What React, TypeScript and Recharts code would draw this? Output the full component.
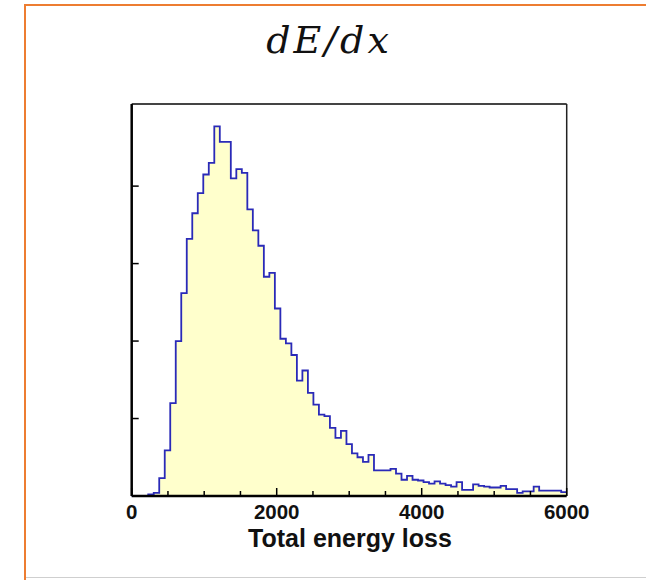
import React from 'react';
import { AreaChart, Area, XAxis, YAxis, ReferenceLine } from 'recharts';

// histogram of total energy loss, 79 equal bins over 0..6000
const X_MIN = 0;
const X_MAX = 6000;
const BIN_COUNT = 79;
const BIN_WIDTH = (X_MAX - X_MIN) / BIN_COUNT;

const binCounts = [
  0, 0, 0, 2, 4, 23, 59, 120, 200, 262,
  332, 365, 391, 415, 430, 477, 457, 457, 410, 422,
  417, 370, 343, 323, 283, 288, 242, 203, 197, 182,
  149, 162, 133, 118, 105, 103, 88, 75, 84, 67,
  55, 50, 44, 53, 33, 33, 33, 35, 29, 21,
  26, 21, 20, 18, 16, 19, 16, 14, 12, 18,
  8, 8, 15, 13, 12, 11, 11, 13, 9, 9,
  4, 6, 6, 12, 7, 7, 7, 7, 5,
];

const xTicks = [0, 500, 1000, 1500, 2000, 2500, 3000, 3500, 4000, 4500, 5000, 5500, 6000];
const xLabelTicks = [0, 2000, 4000, 6000];
const yTicks = [100, 200, 300, 400];
const Y_MAX = 506;

const data = binCounts
  .map((count, i) => ({ x: X_MIN + i * BIN_WIDTH, count }))
  .concat([{ x: X_MAX, count: binCounts[binCounts.length - 1] }]);

const PLOT_LEFT = 131.7;
const PLOT_RIGHT = 566.7;
const PLOT_TOP = 104;
const PLOT_BOTTOM = 496;
const Y_AXIS_W = 20;
const W = 646;
const H = 580;

const XTick = (props: any) => {
  const { x, payload } = props;
  const v = payload.value;
  const major = xLabelTicks.includes(v);
  return (
    <g>
      <line x1={x} x2={x} y1={PLOT_BOTTOM} y2={PLOT_BOTTOM - (major ? 8 : 5)} stroke="#000" strokeWidth={1.5} />
      {major && (
        <text
          x={x}
          y={518.5}
          textAnchor="middle"
          fontFamily="'Liberation Sans', Arial, sans-serif"
          fontWeight="bold"
          fontSize={20.5}
          fill="#111"
        >
          {v}
        </text>
      )}
    </g>
  );
};

const YTick = (props: any) => {
  const { y } = props;
  return <line x1={PLOT_LEFT} x2={PLOT_LEFT + 7} y1={y} y2={y} stroke="#000" strokeWidth={1.5} />;
};

export default function App() {
  return (
    <div style={{ position: 'absolute', left: 0, top: 0, width: W, height: H, background: '#fff', overflow: 'hidden' }}>
      {/* slide frame */}
      <div style={{ position: 'absolute', left: 24, top: 4, width: W - 24, height: 2, background: '#ED7D31' }} />
      <div style={{ position: 'absolute', left: 24, top: 4, width: 2, height: H - 4, background: '#ED7D31' }} />
      <div style={{ position: 'absolute', left: 26, top: H - 3, width: W - 26, height: 1, background: '#cfcfcf' }} />

      <div
        style={{
          position: 'absolute',
          left: 209,
          top: 18,
          width: 240,
          textAlign: 'center',
          fontFamily: "'DejaVu Serif', serif",
          fontStyle: 'italic',
          fontSize: 38,
          letterSpacing: 3,
          color: '#111',
        }}
      >
        dE/dx
      </div>

      <div style={{ position: 'absolute', left: 0, top: 0 }}>
        <AreaChart
          width={W}
          height={H}
          data={data}
          margin={{ top: PLOT_TOP, left: PLOT_LEFT - Y_AXIS_W, right: W - PLOT_RIGHT, bottom: H - PLOT_BOTTOM - 30 }}
        >
          <XAxis
            dataKey="x"
            type="number"
            domain={[X_MIN, X_MAX]}
            ticks={xTicks}
            interval={0}
            height={30}
            tickSize={0}
            tick={<XTick />}
            axisLine={{ stroke: '#000', strokeWidth: 2.5 }}
            tickLine={false}
          />
          <YAxis
            type="number"
            domain={[0, Y_MAX]}
            ticks={yTicks}
            width={Y_AXIS_W}
            tickSize={0}
            tick={<YTick />}
            axisLine={{ stroke: '#000', strokeWidth: 2.5 }}
            tickLine={false}
          />
          <Area
            type="stepAfter"
            dataKey="count"
            stroke="#2a2ab8"
            strokeWidth={1.8}
            fill="#FFFFCC"
            fillOpacity={1}
            dot={false}
            activeDot={false}
            isAnimationActive={false}
          />
          <ReferenceLine y={Y_MAX} stroke="#444" strokeWidth={2} />
          <ReferenceLine x={X_MAX} stroke="#222" strokeWidth={1.5} />
        </AreaChart>
      </div>

      <div
        style={{
          position: 'absolute',
          left: 200,
          top: 524,
          width: 300,
          textAlign: 'center',
          fontFamily: "'Liberation Sans', Arial, sans-serif",
          fontWeight: 'bold',
          fontSize: 25,
          color: '#111',
        }}
      >
        Total energy loss
      </div>
    </div>
  );
}
